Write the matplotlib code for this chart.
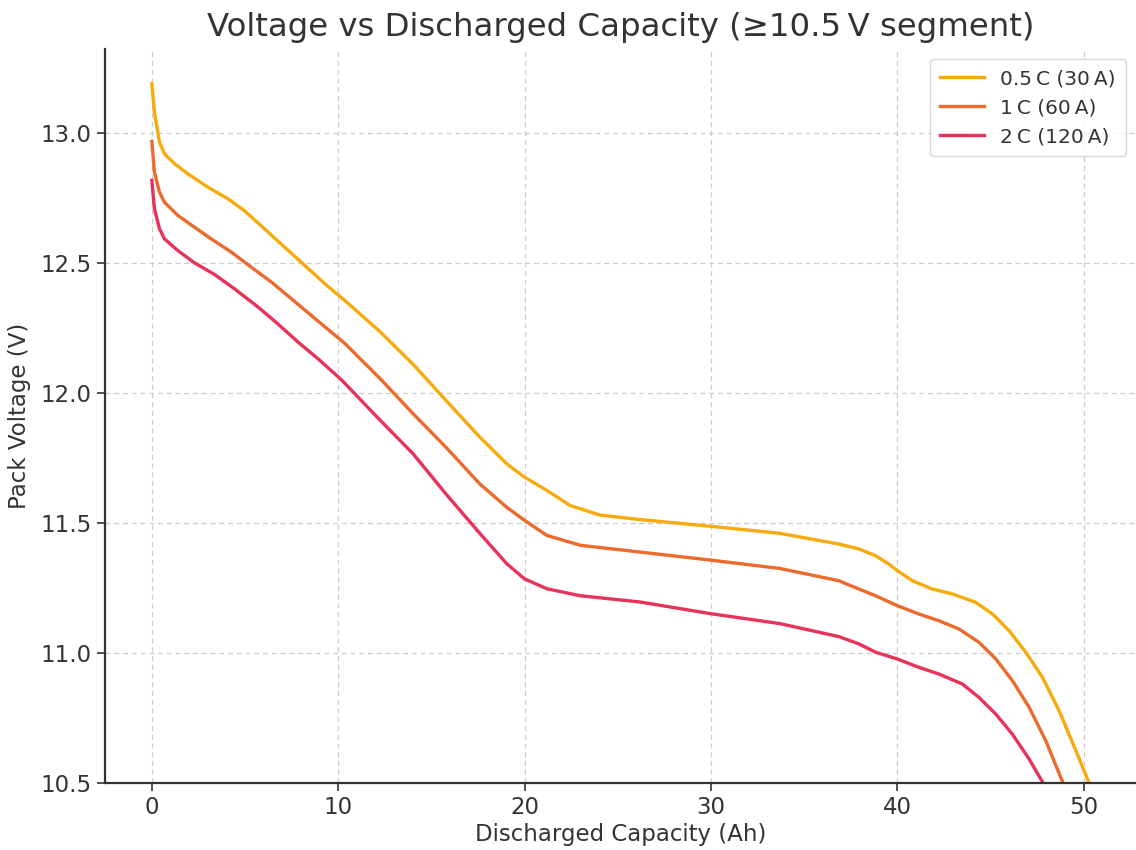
import matplotlib
matplotlib.use("Agg")
import matplotlib.pyplot as plt

labels = ["0.5\u2009C (30\u2009A)", "1\u2009C (60\u2009A)", "2\u2009C (120\u2009A)"]
colors = ["#F8AA0C", "#EC6A2C", "#E8325A"]

x_05c = [0, 0.14, 0.41, 0.68, 1.22, 1.94, 3.01, 4.09, 4.98, 6.06, 7.13, 8.21, 9.28, 10.36, 12.25,
         14.02, 15.8, 17.6, 19.05, 20, 21.2, 22.45, 24.06, 26.2, 30, 33.7, 36.86, 37.94, 38.84,
         39.55, 40, 40.81, 41.88, 42.96, 44.21, 45.11, 46.0, 46.9, 47.8, 48.69, 49.59, 50.3]
v_05c = [13.188, 13.08, 12.964, 12.919, 12.881, 12.842, 12.791, 12.746, 12.70, 12.63, 12.56, 12.49,
         12.42, 12.355, 12.235, 12.11, 11.97, 11.83, 11.727, 11.676, 11.625, 11.567, 11.53, 11.513,
         11.487, 11.46, 11.419, 11.40, 11.374, 11.342, 11.317, 11.278, 11.246, 11.227, 11.195,
         11.15, 11.086, 11.003, 10.906, 10.778, 10.624, 10.5]

x_1c = [0, 0.14, 0.41, 0.68, 1.40, 2.29, 3.19, 4.27, 5.34, 6.42, 7.49, 8.57, 9.64, 10.36, 12.25,
        14.02, 15.8, 17.6, 19.05, 20, 21.2, 23, 26.2, 30, 33.7, 36.86, 37.94, 38.84, 40, 41.16,
        42.24, 43.32, 44.39, 45.29, 46.18, 47.08, 47.97, 48.9]
v_1c = [12.967, 12.849, 12.772, 12.733, 12.682, 12.637, 12.592, 12.541, 12.483, 12.426, 12.362,
        12.297, 12.233, 12.19, 12.055, 11.92, 11.79, 11.65, 11.56, 11.51, 11.452, 11.414, 11.388,
        11.357, 11.325, 11.278, 11.246, 11.22, 11.182, 11.15, 11.124, 11.092, 11.041, 10.977,
        10.894, 10.791, 10.663, 10.5]

x_2c = [0, 0.14, 0.41, 0.68, 1.40, 2.29, 3.37, 4.44, 5.70, 6.77, 7.85, 8.92, 10.18, 12.25, 14.02,
        15.8, 17.6, 19.05, 20, 21.2, 23, 26.2, 30, 33.7, 36.86, 37.94, 38.84, 40, 41.16, 42.24,
        43.49, 44.39, 45.29, 46.18, 47.08, 47.83]
v_2c = [12.817, 12.708, 12.631, 12.592, 12.547, 12.500, 12.455, 12.40, 12.33, 12.265, 12.195,
        12.131, 12.05, 11.895, 11.766, 11.61, 11.46, 11.343, 11.285, 11.247, 11.22, 11.196, 11.151,
        11.113, 11.063, 11.035, 11.003, 10.977, 10.945, 10.919, 10.881, 10.829, 10.765, 10.688,
        10.592, 10.5]

series = [(x_05c, v_05c), (x_1c, v_1c), (x_2c, v_2c)]
y_ticks = [10.5, 11.0, 11.5, 12.0, 12.5, 13.0]
x_ticks = [0, 10, 20, 30, 40, 50]

text_color = "#333333"
plt.rcParams["font.family"] = ["DejaVu Sans"]

fig = plt.figure(figsize=(11.36, 8.5), dpi=100)
ax = fig.add_axes([0.0924, 0.0788, 0.9076, 0.8636])

for (xs, vs), lab, c in zip(series, labels, colors):
    ax.plot(xs, vs, color=c, lw=2.4, label=lab, solid_joinstyle="round")

ax.set_ylim(bottom=10.5)
ax.set_yticks(y_ticks)
ax.set_xticks(x_ticks)

ax.grid(True, linestyle=(0, (4, 3)), color="#cccccc", linewidth=0.9)
ax.set_axisbelow(True)
for s in ["top", "right"]:
    ax.spines[s].set_visible(False)
for s in ["left", "bottom"]:
    ax.spines[s].set_color(text_color)
    ax.spines[s].set_linewidth(1.6)

ax.tick_params(axis="both", labelsize=16.5, colors=text_color, length=6, width=1.2)
ax.tick_params(axis="x", pad=3)
ax.set_xlabel("Discharged Capacity (Ah)", fontsize=16.5, color=text_color, labelpad=3)
ax.set_ylabel("Pack Voltage (V)", fontsize=16.5, color=text_color, labelpad=7)
ax.set_title("Voltage vs Discharged Capacity (\u226510.5\u2009V segment)", fontsize=23.3,
             color=text_color, pad=9)

leg = ax.legend(loc="upper right", fontsize=14.5, frameon=True, handlelength=2.2,
                borderpad=0.5, labelspacing=0.5)
leg.get_frame().set_edgecolor("#cccccc")
for t in leg.get_texts():
    t.set_color(text_color)

fig.savefig("out.png", dpi=100)
